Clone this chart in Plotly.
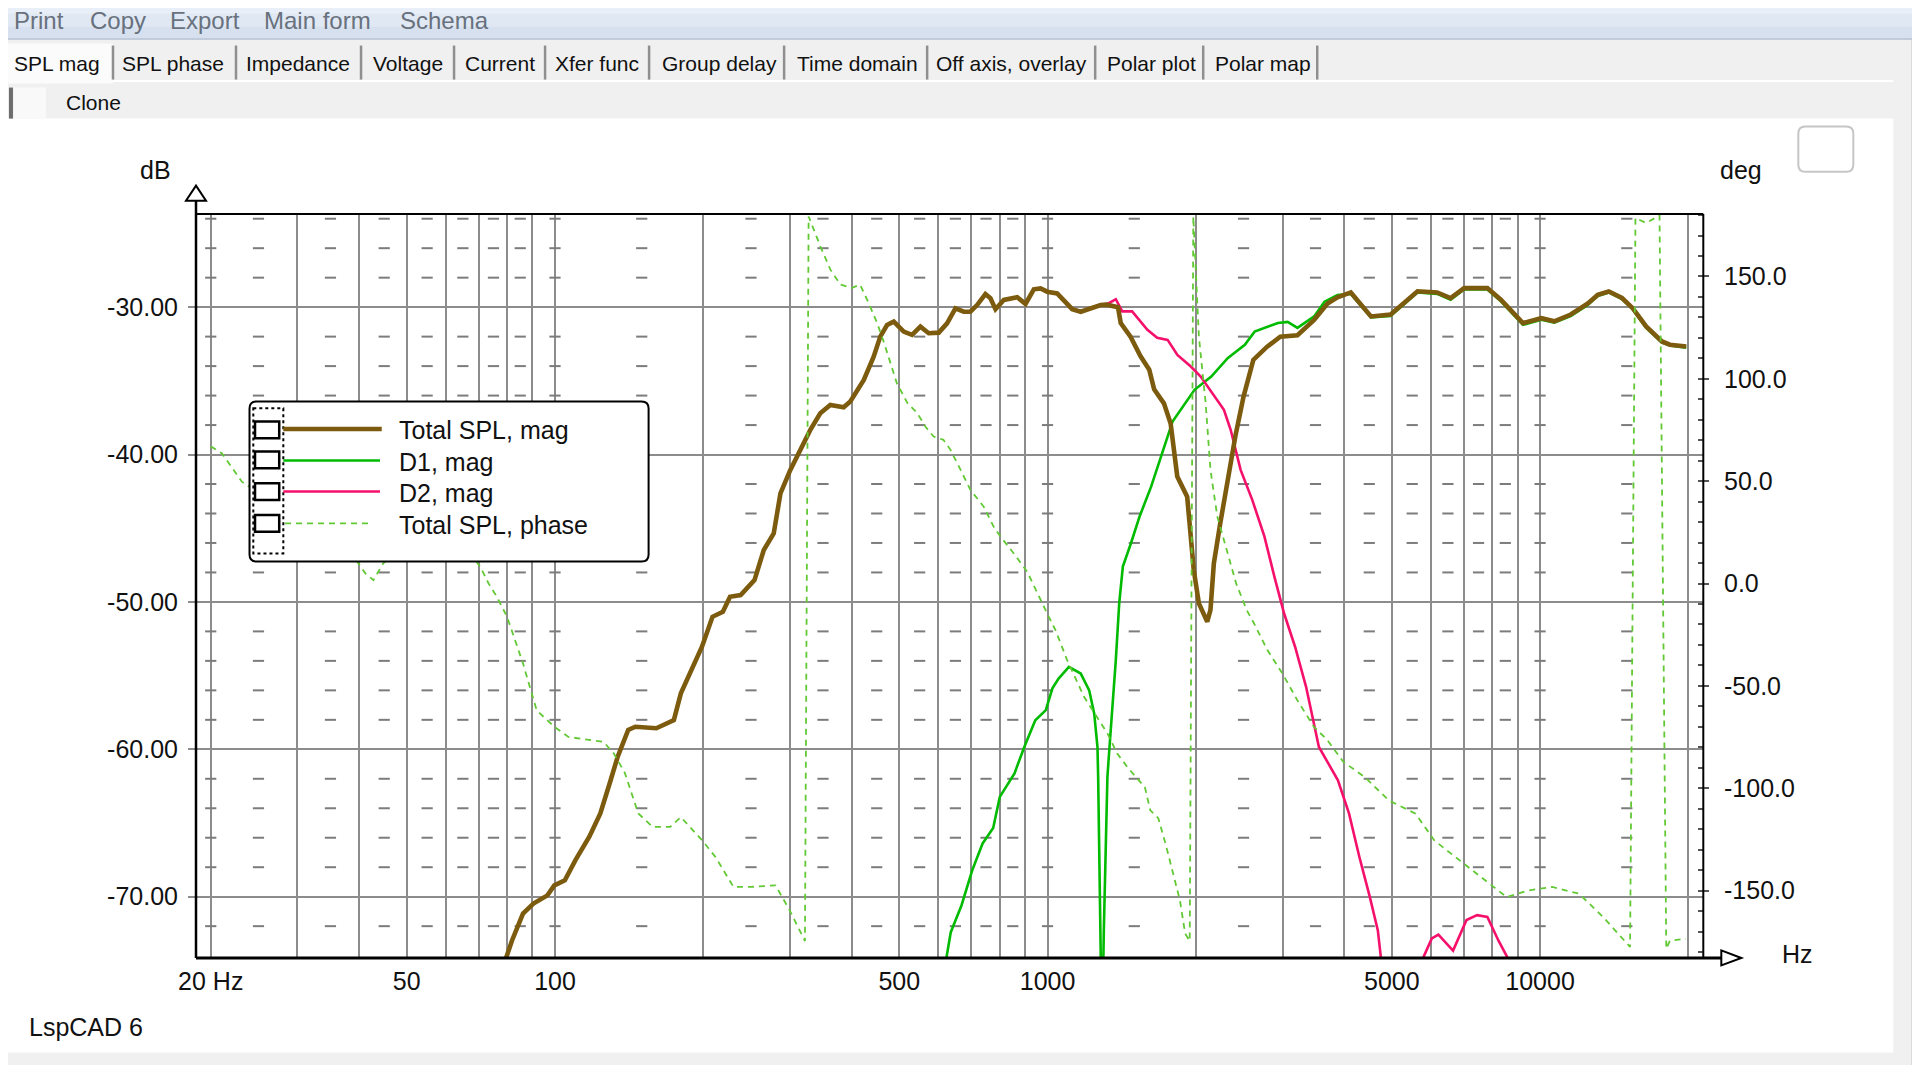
import plotly.graph_objects as go

# ---- data ----
# Total SPL magnitude
spl_freq = [78, 81.8, 86.1, 90.4, 96.5, 99.7, 104.7, 110.1, 117.4, 123.6, 129.7, 134.0,
            140.8, 145.6, 160.6, 174.3, 180.1, 189.2, 198.8, 208.8, 219.2, 226.6, 238.2,
            254.1, 265.4, 278, 286.9, 300.3, 314.8, 329.9, 345.6, 362.2, 385.6, 397.7,
            423.6, 443.6, 457.5, 472.2, 487.3, 510.5, 530.8, 551.9, 573.8, 601.4, 625.2,
            650.1, 675.9, 697.1, 719.4, 747.9, 765.7, 784.0, 815.1, 867.8, 902.2, 937.9,
            967.8, 998.3, 1046, 1088, 1122, 1168, 1223, 1282, 1317, 1390, 1408, 1474,
            1545, 1609, 1646, 1723, 1778, 1834, 1921, 1981, 2029, 2110, 2142, 2176, 2243,
            2334, 2407, 2500, 2617, 2788, 2969, 3217, 3477, 3702, 3878, 4128, 4326, 4536,
            4972, 5205, 5639, 6180, 6582, 7012, 7816, 8325, 9231, 10058, 10688, 11540,
            12503, 13092, 13785, 14665, 15420, 16420, 17680, 18350, 19810]
spl_db = [-75.0, -72.97, -71.15, -70.47, -69.91, -69.23, -68.89, -67.5, -65.93, -64.35,
          -62.1, -60.52, -58.69, -58.47, -58.57, -58.02, -56.2, -54.62, -53.04, -51.01,
          -50.67, -49.65, -49.54, -48.52, -46.48, -45.36, -42.64, -41.06, -39.69, -38.33,
          -37.2, -36.64, -36.79, -36.4, -34.94, -33.36, -32.0, -31.21, -30.98, -31.66,
          -31.88, -31.32, -31.77, -31.73, -31.1, -30.08, -30.31, -30.31, -29.86, -29.11,
          -29.4, -30.14, -29.51, -29.33, -29.78, -28.79, -28.73, -28.95, -29.07, -29.63,
          -30.14, -30.31, -30.08, -29.86, -29.83, -30.0, -31.08, -32.0, -33.33, -34.24,
          -35.57, -36.53, -37.9, -41.5, -42.86, -47.84, -50.1, -51.34, -50.54, -47.38,
          -44.64, -41.06, -38.73, -36.07, -33.58, -32.7, -32.0, -31.91, -30.86, -29.75,
          -29.33, -29.0, -29.83, -30.63, -30.5, -29.92, -28.92, -29.0, -29.38, -28.71,
          -28.71, -29.5, -31.08, -30.75, -30.96, -30.5, -29.75, -29.17, -28.94, -29.38,
          -30.07, -31.31, -32.33, -32.55, -32.67]

# D1 magnitude
d1_freq = [610, 636.1, 669, 703.1, 738.2, 775.6, 799.9, 856.9, 897, 944.3, 992, 1023,
           1053, 1105, 1168, 1215, 1244, 1263, 1267, 1276, 1280, 1290, 1301, 1323, 1333,
           1355, 1376, 1398, 1422, 1477, 1537, 1623, 1700, 1794, 1988, 2150, 2321, 2515,
           2633, 2936, 3073, 3217, 3478, 3650, 3878, 4128, 4326, 4536, 4972, 5205, 5639,
           6180, 6582, 7012, 7816, 8325, 9231, 10058, 10688, 11540, 12503, 13092, 13785,
           14665, 15420, 16420, 17680, 18350, 19810]
d1_db = [-76.0, -72.41, -70.58, -68.21, -66.39, -65.34, -63.23, -61.63, -59.84, -58.03,
         -57.34, -55.86, -55.2, -54.41, -54.86, -56.0, -57.58, -59.85, -61.88, -67.34,
         -72.3, -80.0, -72.3, -61.88, -60.3, -57.13, -53.95, -50.1, -47.6, -46.02, -44.22,
         -42.18, -40.15, -37.76, -35.61, -34.71, -33.46, -32.56, -31.66, -31.08, -31.0,
         -31.41, -30.63, -29.63, -29.17, -29.1, -29.9, -30.7, -30.6, -30.0, -29.0, -29.1,
         -29.5, -28.8, -28.8, -29.6, -31.2, -30.85, -31.05, -30.6, -29.85, -29.25, -29.0,
         -29.45, -30.15, -31.4, -32.4, -32.6, -32.75]

# D2 magnitude (below ~1.3 kHz it lies under the total curve)
d2_freq = [78, 81.8, 86.1, 90.4, 96.5, 99.7, 104.7, 110.1, 117.4, 123.6, 129.7, 134.0,
           140.8, 145.6, 160.6, 174.3, 180.1, 189.2, 198.8, 208.8, 219.2, 226.6, 238.2,
           254.1, 265.4, 278, 286.9, 300.3, 314.8, 329.9, 345.6, 362.2, 385.6, 397.7,
           423.6, 443.6, 457.5, 472.2, 487.3, 510.5, 530.8, 551.9, 573.8, 601.4, 625.2,
           650.1, 675.9, 697.1, 719.4, 747.9, 765.7, 784.0, 815.1, 867.8, 902.2, 937.9,
           967.8, 998.3, 1046, 1088, 1122, 1168, 1223, 1282, 1332, 1376, 1418, 1485,
           1595, 1670, 1753, 1835, 1954, 2046, 2179, 2281, 2354, 2466, 2603, 2756, 2886,
           3021, 3181, 3349, 3556, 3887, 4093, 4297, 4510, 4684, 4749, 4900, 5300, 5650,
           5803, 6028, 6217, 6658, 7090, 7450, 7816, 8230, 8567, 8750, 9500]
d2_db = [-75.0, -72.97, -71.15, -70.47, -69.91, -69.23, -68.89, -67.5, -65.93, -64.35,
         -62.1, -60.52, -58.69, -58.47, -58.57, -58.02, -56.2, -54.62, -53.04, -51.01,
         -50.67, -49.65, -49.54, -48.52, -46.48, -45.36, -42.64, -41.06, -39.69, -38.33,
         -37.2, -36.64, -36.79, -36.4, -34.94, -33.36, -32.0, -31.21, -30.98, -31.66,
         -31.88, -31.32, -31.77, -31.73, -31.1, -30.08, -30.31, -30.31, -29.86, -29.11,
         -29.4, -30.14, -29.51, -29.33, -29.78, -28.79, -28.73, -28.95, -29.07, -29.63,
         -30.14, -30.31, -30.08, -29.86, -29.73, -29.46, -30.29, -30.29, -31.54, -32.08,
         -32.22, -33.24, -34.03, -34.71, -36.07, -36.97, -38.32, -41.04, -43.06, -45.55,
         -48.25, -50.77, -53.04, -55.76, -59.84, -62.1, -64.35, -67.31, -70.0, -72.29,
         -74.07, -77.0, -85.0, -77.0, -74.07, -72.83, -72.58, -73.66, -71.58, -71.25,
         -71.38, -72.97, -74.07, -77.0, -90.0]

# Total SPL phase (deg)
ph_freq = [20, 21.06, 23.13, 27.88, 33.1, 38.2, 39.9, 41.2, 42.8, 44.8, 49.4, 57.0, 65.8,
           70.5, 73.3, 76.2, 79.9, 86.1, 91.8, 99.8, 106.5, 125.5, 131.6, 138.6, 147.6,
           157.9, 171.3, 180.1, 198.9, 211.8, 230.4, 250, 280.4, 299.5, 319.9, 321.7,
           327.3, 334.9, 345.8, 362.4, 379.8, 401.1, 416.3, 433.3, 451.0, 465.5, 480.4,
           494.3, 519.0, 543.6, 565.3, 587.1, 614.6, 635.3, 666, 697.1, 742.3, 777.1,
           802.6, 854.3, 909.6, 967.8, 1006, 1038, 1096, 1186, 1262, 1323, 1385, 1451,
           1510, 1576, 1617, 1679, 1743, 1810, 1857, 1903, 1944, 1977, 2000, 2029, 2094,
           2142, 2212, 2319, 2415, 2537, 2626, 2795, 2999, 3215, 3475, 3700, 3986, 4406,
           4929, 5588, 6100, 7002, 7834, 8557, 9460, 10590, 12000, 13430, 15230, 15620,
           16420, 17480, 18040, 18350, 19770]
ph_deg = [67, 63.65, 49.76, 36.8, 23.65, 14.7, 9.88, 4.97, 1.68, 9.88, 18.3, 21.9, 17.7,
          8.2, 0.06, -6.47, -16.2, -38.98, -61.98, -70.06, -74.91, -77.37, -82.93, -92.51,
          -112.3, -118.9, -118.9, -114.1, -125.4, -133.6, -148.2, -148.2, -147.4, -159.6,
          -173.4, -174.6, 179.3, 172.9, 164.7, 153.3, 146, 144.4, 146, 137, 127.2, 117.7,
          107.7, 97.9, 88.3, 83.3, 76.6, 71.8, 70.2, 65.3, 55.5, 45.8, 37.5, 27.8, 22.9,
          14.7, 5.7, -8.1, -16.3, -22.8, -37.4, -55.3, -65.1, -73.2, -83, -89.5, -94.4,
          -99.4, -110.8, -114.7, -128.7, -145, -154.8, -171, -174.6, 179.3, 153.3, 120.7,
          88.3, 55.5, 32.6, 15, 0.05, -12.9, -19.5, -32.5, -44, -57, -70, -76.5, -87.1,
          -94.5, -105.9, -112.4, -125.5, -136.8, -145.8, -153.2, -149.9, -148.2, -151.5,
          -162.9, -177.5, 178.6, 176.1, 179.8, -178.4, -174.4, -173.5]

# axis ticks
x_ticks = [20, 50, 100, 500, 1000, 5000, 10000]
x_labels = ["20 Hz", "50", "100", "500", "1000", "5000", "10000"]
x_grid = [30, 40, 60, 70, 80, 90, 200, 300, 400, 600, 700, 800, 900, 2000, 3000, 4000,
          6000, 7000, 8000, 9000, 20000]
db_ticks = [-30, -40, -50, -60, -70]
db_labels = ["-30.00", "-40.00", "-50.00", "-60.00", "-70.00"]
deg_ticks = [150, 100, 50, 0, -50, -100, -150]
deg_labels = ["150.0", "100.0", "50.0", "0.0", "-50.0", "-100.0", "-150.0"]
# small dash marks between the grid lines
dash_freq = [20, 25, 35, 45, 55, 65, 75, 85, 100, 150, 250, 350, 450, 550, 650, 750, 850,
             1000, 1500, 2500, 3500, 4500, 5500, 6500, 7500, 8500, 10000, 15000]
dash_db = [-24, -26, -28, -32, -34, -36, -38, -42, -44, -46, -48, -52, -54, -56, -58,
           -62, -64, -66, -68, -72]

legend_names = ["Total SPL, mag", "D1, mag", "D2, mag", "Total SPL, phase"]
tabs = ["SPL mag", "SPL phase", "Impedance", "Voltage", "Current", "Xfer func",
        "Group delay", "Time domain", "Off axis, overlay", "Polar plot", "Polar map"]
menu = ["Print", "Copy", "Export", "Main form", "Schema"]

C_TOTAL = "#7d5b0e"
C_D1 = "#00bb00"
C_D2 = "#f5106c"
C_PH = "#62c935"
GRID = "#8c8c8c"
FONT = "Liberation Sans"

# ---- page geometry (pixels of the 1920x1065 screenshot) ----
# the browser page keeps an 8 px body margin, so the figure is 8 px smaller
OFF = 8
W, H = 1920 - OFF, 1065 - OFF
X0, X1, Y0, Y1 = 196, 1702.7, 214.3, 957.6   # plot area in screenshot pixels
PW, PH = X1 - X0, Y1 - Y0


def px(x):
    return (x - X0) / PW


def py(y):
    return 1 - (y - Y0) / PH


def rect(x0, y0, x1, y1, fill, line=None, lw=0, layer="above", dash=None):
    d = dict(type="rect", xref="paper", yref="paper", x0=px(x0), x1=px(x1),
             y0=py(y0), y1=py(y1), fillcolor=fill, layer=layer,
             line=dict(color=line or fill, width=lw))
    if dash:
        d["line"]["dash"] = dash
    return d


def hline(x0, x1, y, color, w, layer="above", dash=None):
    d = dict(type="line", xref="paper", yref="paper", x0=px(x0), x1=px(x1),
             y0=py(y), y1=py(y), layer=layer, line=dict(color=color, width=w))
    if dash:
        d["line"]["dash"] = dash
    return d


def vline(x, y0, y1, color, w, layer="above"):
    return dict(type="line", xref="paper", yref="paper", x0=px(x), x1=px(x),
                y0=py(y0), y1=py(y1), layer=layer, line=dict(color=color, width=w))


def path(pts, fill, color, w):
    s = "M " + " L ".join(f"{px(a):.5f},{py(b):.5f}" for a, b in pts) + " Z"
    return dict(type="path", xref="paper", yref="paper", path=s, fillcolor=fill,
                layer="above", line=dict(color=color, width=w))


def rrect(x0, y0, x1, y1, r, fill, color, w):
    P = lambda a, b: f"{px(a):.5f},{py(b):.5f}"
    s = (f"M {P(x0 + r, y0)} L {P(x1 - r, y0)} Q {P(x1, y0)} {P(x1, y0 + r)} "
         f"L {P(x1, y1 - r)} Q {P(x1, y1)} {P(x1 - r, y1)} L {P(x0 + r, y1)} "
         f"Q {P(x0, y1)} {P(x0, y1 - r)} L {P(x0, y0 + r)} Q {P(x0, y0)} {P(x0 + r, y0)} Z")
    return dict(type="path", xref="paper", yref="paper", path=s, fillcolor=fill,
                layer="above", line=dict(color=color, width=w))


def text(x, y, s, size=25, anchor="left", color="#111111"):
    return dict(xref="paper", yref="paper", x=px(x), y=py(y), text=s, showarrow=False,
                xanchor=anchor, yanchor="middle",
                font=dict(size=size, color=color, family=FONT))


fig = go.Figure()

# dash marks
fig.add_trace(go.Scatter(
    x=[f for f in dash_freq for _ in dash_db], y=[d for _ in dash_freq for d in dash_db],
    mode="markers", hoverinfo="skip", showlegend=False,
    marker=dict(symbol="line-ew", size=8, line=dict(color="#7c7c7c", width=2))))

fig.add_trace(go.Scatter(x=d1_freq, y=d1_db, mode="lines", name=legend_names[1],
                         line=dict(color=C_D1, width=2.6), showlegend=False))
fig.add_trace(go.Scatter(x=d2_freq, y=d2_db, mode="lines", name=legend_names[2],
                         line=dict(color=C_D2, width=2.6), showlegend=False))
fig.add_trace(go.Scatter(x=spl_freq, y=spl_db, mode="lines", name=legend_names[0],
                         line=dict(color=C_TOTAL, width=4.6), showlegend=False))
fig.add_trace(go.Scatter(x=ph_freq, y=ph_deg, mode="lines", name=legend_names[3],
                         yaxis="y2", line=dict(color=C_PH, width=1.8, dash="6px,5px"),
                         showlegend=False))

shapes = []
# window chrome
shapes.append(rect(6, 119, 1893, 1052, "white", layer="below"))
shapes.append(rect(0, 2, 1930, 14, "#e9eff8", layer="below"))
shapes.append(rect(0, 14, 1930, 27, "#e0e8f4", layer="below"))
shapes.append(rect(0, 27, 1930, 39, "#d6e0ef", layer="below"))
shapes.append(hline(0, 1930, 39.5, "#b3c1d5", 1.5, layer="below"))
shapes.append(rect(5, 44, 113, 84, "#fbfbfb", layer="below"))
shapes.append(hline(113, 1893, 81.5, "white", 2, layer="below"))
for xs in [113, 236, 361, 454, 545, 649, 784, 927, 1095, 1203, 1317]:
    shapes.append(vline(xs, 46, 80, "#8f8f8f", 2.5, layer="below"))
shapes.append(rect(9, 88, 13, 119, "#6d6d6d", layer="below"))
shapes.append(rect(14, 88, 46, 119, "#f9f9f9", layer="below"))
shapes.append(vline(1913, 40, 1070, "#707070", 3, layer="below"))
shapes.append(rrect(1798, 127, 1853, 172, 7, "white", "#c6c6c6", 2))

# plot frame and axis arrows
shapes.append(hline(196, 1703, 214.3, "black", 2))
shapes.append(vline(1703, 214.3, 957.6, "black", 2))
shapes.append(vline(196, 957.6, 190, "black", 2.5))
shapes.append(hline(196, 1735, 957.6, "black", 3))
shapes.append(path([(196, 186), (206, 201), (186, 201)], "white", "black", 2))
shapes.append(path([(1741, 957.6), (1721, 950), (1721, 965)], "white", "black", 2))

# legend box
shapes.append(rrect(249.5, 401.5, 648.5, 561.5, 7, "white", "black", 2))
shapes.append(rect(253.3, 408.4, 283.3, 553.4, "rgba(0,0,0,0)", "black", 2, dash="dot"))
box_y = [430, 460, 491.7, 523.4]
line_y = [429, 460.6, 491.6, 523.4]
for by in box_y:
    shapes.append(rect(255, by - 8.3, 279.2, by + 8.3, "white", "black", 2.5))
shapes.append(hline(283.3, 381.7, line_y[0], C_TOTAL, 4.5))
shapes.append(hline(283.3, 380, line_y[1], C_D1, 2.6))
shapes.append(hline(283.3, 380, line_y[2], C_D2, 2.6))
shapes.append(hline(285, 373, line_y[3], C_PH, 1.8, dash="6px,5px"))

annotations = []
for name, ly in zip(legend_names, line_y):
    annotations.append(text(396.7, ly + 1.5, name))
menu_x = [12, 88, 168, 262, 398]
for m, mx in zip(menu, menu_x):
    annotations.append(text(mx, 21, m, size=24, color="#68717d"))
tab_cx = [57.5, 173.3, 298.2, 407.8, 499.6, 597, 719.4, 857.2, 1011.4, 1151, 1263]
for t, tx in zip(tabs, tab_cx):
    annotations.append(text(tx, 63.5, t, size=21, anchor="center"))
annotations.append(text(64, 103, "Clone", size=21))
annotations.append(text(155.5, 170, "dB", anchor="center"))
annotations.append(text(1741, 170, "deg", anchor="center"))
annotations.append(text(1797, 954, "Hz", anchor="center"))
annotations.append(text(27, 1027, "LspCAD 6"))

tickfont = dict(family=FONT, size=25, color="#111111")
fig.update_layout(
    width=W, height=H,
    margin=dict(l=X0 - OFF, r=W - (X1 - OFF), t=Y0 - OFF, b=H - (Y1 - OFF), pad=0),
    paper_bgcolor="#f0f0f0", plot_bgcolor="white",
    font=dict(family=FONT, size=25, color="#111111"),
    showlegend=False,
    shapes=shapes, annotations=annotations,
    xaxis=dict(type="log", range=[1.2711, 4.3308], tickmode="array", tickvals=x_ticks,
               ticktext=x_labels, showgrid=True, gridcolor=GRID, gridwidth=2,
               zeroline=False, showline=False, ticks="", tickfont=tickfont,
               ticklabelstandoff=6,
               minor=dict(tickvals=x_grid, showgrid=True, gridcolor=GRID, gridwidth=2,
                          ticks="")),
    yaxis=dict(range=[-74.16, -23.68], tickmode="array", tickvals=db_ticks,
               ticktext=db_labels, showgrid=True, gridcolor=GRID, gridwidth=2,
               zeroline=False, showline=False, ticks="outside", ticklen=7,
               tickcolor=GRID, tickwidth=2, tickfont=tickfont, ticklabelstandoff=5),
    yaxis2=dict(range=[-182.9, 180.5], overlaying="y", side="right", tickmode="array",
                tickvals=deg_ticks, ticktext=deg_labels, showgrid=False, zeroline=False,
                showline=False, ticks="outside", ticklen=5, tickcolor="#555555",
                tickwidth=1.5, tickfont=tickfont, ticklabelstandoff=10,
                minor=dict(dtick=10, tick0=0, ticks="inside", ticklen=5,
                           tickcolor="#555555", tickwidth=1.5, showgrid=False)),
)

fig.write_html("out.html")
